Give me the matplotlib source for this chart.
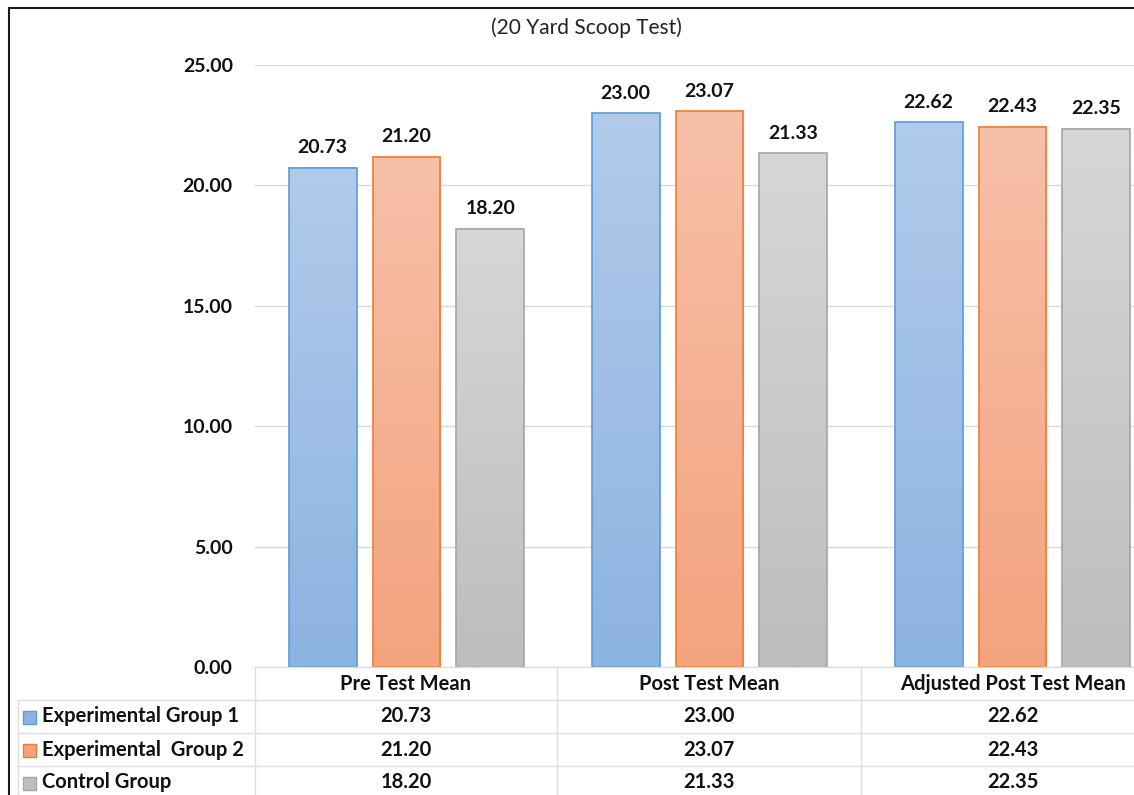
import numpy as np
import matplotlib
matplotlib.use("Agg")
import matplotlib.pyplot as plt
from matplotlib.colors import to_rgb
from matplotlib.lines import Line2D
from matplotlib.patches import Rectangle

plt.rcParams['font.family'] = ['Lato', 'DejaVu Sans']

# ---- data ----
title = "(20 Yard Scoop Test)"
categories = ["Pre Test Mean", "Post Test Mean", "Adjusted Post Test Mean"]
series_names = ["Experimental Group 1", "Experimental  Group 2", "Control Group"]
exp_group1 = [20.73, 23.00, 22.62]
exp_group2 = [21.20, 23.07, 22.43]
control_group = [18.20, 21.33, 22.35]
y_ticks = [0, 5, 10, 15, 20, 25]

series_values = [exp_group1, exp_group2, control_group]
# gradient (top, bottom) and outline colour per series
fills = [("#B1CBEA", "#8DB3E2"), ("#F7C0A9", "#F4A37E"), ("#D7D7D7", "#BDBDBD")]
edges = ["#5B9BD5", "#ED7D31", "#A5A5A5"]

FS = 14.5
W, H = 1134, 795
fig = plt.figure(figsize=(W / 100, H / 100), dpi=100)
fig.patch.set_facecolor("white")


def fx(x):
    return x / W


def fy(y):
    return 1 - y / H


# plot area (extends past the right edge of the canvas)
ax_left, ax_right, ax_top, ax_bottom = 255, 1164, 65, 667
ax = fig.add_axes([fx(ax_left), fy(ax_bottom), (ax_right - ax_left) / W,
                   (ax_bottom - ax_top) / H])
ax.set_xlim(-0.5, len(categories) - 0.5)
ax.set_ylim(0, 25)
for s in ax.spines.values():
    s.set_visible(False)
ax.set_xticks([])
ax.set_yticks(y_ticks)
ax.set_yticklabels([f"{v:.2f}" for v in y_ticks], fontsize=14, fontweight="bold",
                   color="#111111")
ax.tick_params(axis="y", length=0, pad=16)
ax.yaxis.grid(True, color="#D9D9D9", linewidth=1)
ax.set_axisbelow(True)

bar_w = 0.224
step = 0.277
x = np.arange(len(categories))
for i, vals in enumerate(series_values):
    pos = x + (i - 1) * step
    top_c, bot_c = np.array(to_rgb(fills[i][0])), np.array(to_rgb(fills[i][1]))
    t = np.linspace(0, 1, 256)[:, None]
    grad = (top_c * (1 - t) + bot_c * t)[:, None, :]
    bars = ax.bar(pos, vals, width=bar_w, facecolor="none", edgecolor=edges[i],
                  linewidth=1.2, zorder=3)
    for b, v in zip(bars, vals):
        x0 = b.get_x()
        ax.imshow(grad, extent=(x0, x0 + b.get_width(), 0, v), aspect="auto",
                  origin="upper", zorder=2, interpolation="bilinear")
        ax.annotate(f"{v:.2f}", (b.get_x() + b.get_width() / 2, v),
                    xytext=(0, 14.5), textcoords="offset points", ha="center",
                    va="center", fontsize=14, fontweight="bold", color="#111111")
ax.set_xlim(-0.5, len(categories) - 0.5)
ax.set_ylim(0, 25)

# title
fig.text(fx(586), fy(28), title, ha="center", va="center", fontsize=15,
         color="#222222")

# ---- data table under the plot ----
grid_c = "#DDDDDD"
row_edges = [667, 700, 733, 766, 799]
col_edges = [255, 557, 861, 1164]


def hline(y, x0, x1):
    fig.add_artist(Line2D([fx(x0), fx(x1)], [fy(y), fy(y)], color=grid_c, lw=1))


def vline(xp, y0, y1):
    fig.add_artist(Line2D([fx(xp), fx(xp)], [fy(y0), fy(y1)], color=grid_c, lw=1))


hline(row_edges[0], col_edges[0], W)
for y in row_edges[1:4]:
    hline(y, 18, W)
for xp in col_edges[:3]:
    vline(xp, row_edges[0], H)
vline(18, row_edges[1], H)

for j, cat in enumerate(categories):
    cx = (col_edges[j] + col_edges[j + 1]) / 2
    fig.text(fx(cx), fy((row_edges[0] + row_edges[1]) / 2), cat, ha="center",
             va="center", fontsize=FS, fontweight="bold", color="#111111")

for i, (name, vals) in enumerate(zip(series_names, series_values)):
    cy = (row_edges[i + 1] + row_edges[i + 2]) / 2
    fig.add_artist(Rectangle((fx(23), fy(cy + 7)), 13 / W, 13 / H,
                             facecolor=fills[i][1], edgecolor=edges[i], lw=1))
    fig.text(fx(42), fy(cy), name, ha="left", va="center", fontsize=FS,
             fontweight="bold", color="#111111")
    for j, v in enumerate(vals):
        cx = (col_edges[j] + col_edges[j + 1]) / 2
        fig.text(fx(cx), fy(cy), f"{v:.2f}", ha="center", va="center",
                 fontsize=FS, fontweight="bold", color="#111111")

# chart frame
fig.add_artist(Line2D([fx(9), 1], [fy(8), fy(8)], color="#1A1A1A", lw=1.5))
fig.add_artist(Line2D([fx(9), fx(9)], [fy(8), 0], color="#1A1A1A", lw=1.5))

fig.savefig("out.png", dpi=100, facecolor="white")
